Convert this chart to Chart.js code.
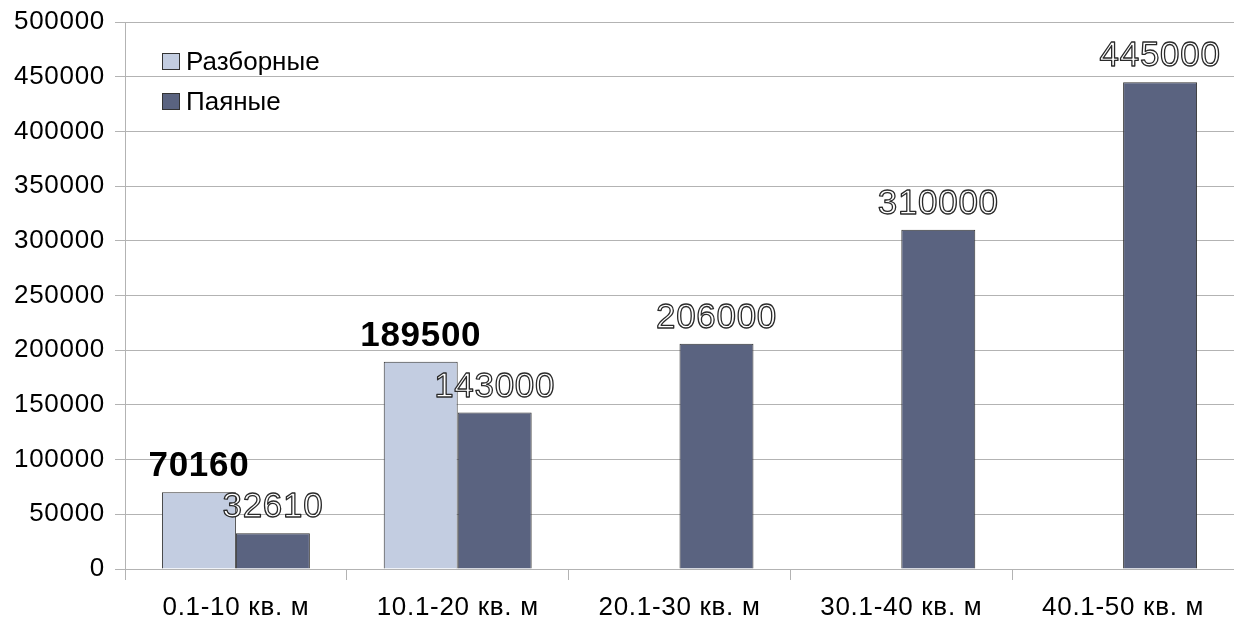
<!DOCTYPE html>
<html>
<head>
<meta charset="utf-8">
<script src="https://cdn.jsdelivr.net/npm/chart.js@4"></script>
<style>
  html, body { margin: 0; padding: 0; background: #ffffff; }
  #wrap { width: 1234px; height: 617px; position: relative; }
</style>
</head>
<body>
<div id="wrap"><canvas id="c"></canvas></div>
<script>
// Heat exchanger prices by plate area
const categories = ['0.1-10 кв. м', '10.1-20 кв. м', '20.1-30 кв. м', '30.1-40 кв. м', '40.1-50 кв. м'];
const seriesNames = ['Разборные', 'Паяные'];
const razbornye = [70160, 189500, null, null, null];
const payanye = [32610, 143000, 206000, 310000, 445000];
const yTicks = [0, 50000, 100000, 150000, 200000, 250000, 300000, 350000, 400000, 450000, 500000];

const FONT = '"Liberation Sans", Arial, sans-serif';
const GRID = '#b3b3b3';
const SPACING = '0.7px';

// Slightly wider text spacing for all canvas text (reapplied after canvas resizes)
const spacing = {
  id: 'spacing',
  beforeLayout(chart) { chart.ctx.letterSpacing = SPACING; },
  beforeDraw(chart) { chart.ctx.letterSpacing = SPACING; }
};

// Value labels above bars: first series bold black, second series outlined white
const valueLabels = {
  id: 'valueLabels',
  afterDatasetsDraw(chart) {
    const ctx = chart.ctx;
    ctx.save();
    ctx.letterSpacing = SPACING;
    ctx.textAlign = 'center';
    ctx.textBaseline = 'alphabetic';
    chart.data.datasets.forEach((ds, di) => {
      const meta = chart.getDatasetMeta(di);
      meta.data.forEach((bar, i) => {
        const v = ds.data[i];
        if (v === null || v === undefined) return;
        const txt = String(v);
        const y = bar.y - 16;
        if (di === 0) {
          ctx.font = 'bold 35px ' + FONT;
          ctx.fillStyle = '#000000';
          ctx.fillText(txt, bar.x, y);
        } else {
          ctx.font = '35px ' + FONT;
          ctx.lineJoin = 'round';
          ctx.fillStyle = '#ffffff';
          ctx.fillText(txt, bar.x, y);
          ctx.lineWidth = 1.3;
          ctx.strokeStyle = '#2a2a2a';
          ctx.strokeText(txt, bar.x, y);
        }
      });
    });
    ctx.restore();
  }
};

// Legend drawn inside the plot area, top-left
const innerLegend = {
  id: 'innerLegend',
  afterDraw(chart) {
    const ctx = chart.ctx;
    const area = chart.chartArea;
    ctx.save();
    ctx.letterSpacing = '0px';
    ctx.font = '26px ' + FONT;
    ctx.textBaseline = 'middle';
    chart.data.datasets.forEach((ds, di) => {
      const x = area.left + 37;
      const y = area.top + 40 + di * 40;
      ctx.fillStyle = ds.backgroundColor;
      ctx.fillRect(x, y - 9, 18, 17);
      ctx.strokeStyle = '#333333';
      ctx.lineWidth = 1;
      ctx.strokeRect(x + 0.5, y - 8.5, 17, 16);
      ctx.fillStyle = '#000000';
      ctx.fillText(ds.label, x + 24, y + 1);
    });
    ctx.restore();
  }
};

new Chart(document.getElementById('c'), {
  type: 'bar',
  data: {
    labels: categories,
    datasets: [
      { label: seriesNames[0], data: razbornye, backgroundColor: '#c3cde1', borderColor: '#333333', borderWidth: 1 },
      { label: seriesNames[1], data: payanye, backgroundColor: '#5a6380', borderColor: '#333333', borderWidth: 1 }
    ]
  },
  options: {
    responsive: true,
    maintainAspectRatio: false,
    animation: false,
    layout: { padding: { top: 22, right: 0, left: 0, bottom: 0 } },
    plugins: {
      legend: { display: false },
      tooltip: { enabled: false }
    },
    datasets: { bar: { categoryPercentage: 0.667, barPercentage: 1.0, skipNull: false } },
    scales: {
      x: {
        grid: { offset: true, drawOnChartArea: false, drawTicks: true, tickLength: 11, color: GRID },
        border: { color: GRID, width: 1 },
        ticks: { color: '#000000', font: { family: FONT, size: 26 }, padding: 12, maxRotation: 0 },
        afterFit(scale) { scale.height = 48; }
      },
      y: {
        min: 0,
        max: 500000,
        afterBuildTicks(scale) { scale.ticks = yTicks.map(v => ({ value: v })); },
        grid: { color: GRID, tickLength: 10, drawTicks: true },
        border: { color: GRID, width: 1 },
        ticks: { color: '#000000', font: { family: FONT, size: 26, lineHeight: 1 }, padding: 10, callback: v => String(v) },
        afterFit(scale) { scale.width = 125; scale.paddingTop = 0; scale.paddingBottom = 0; }
      }
    }
  },
  plugins: [spacing, valueLabels, innerLegend]
});
</script>
</body>
</html>
